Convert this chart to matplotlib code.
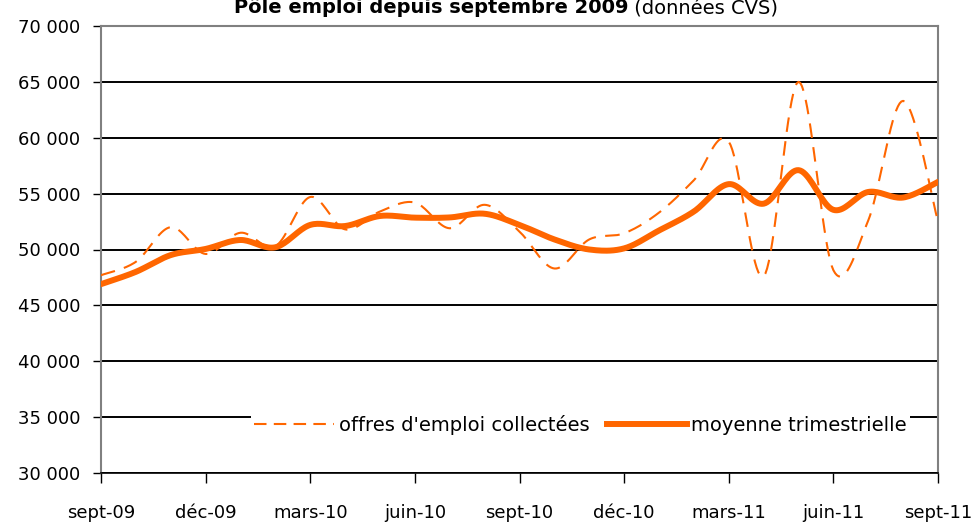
import numpy as np
import matplotlib
matplotlib.use("Agg")
import matplotlib.pyplot as plt
from matplotlib.lines import Line2D

months = ["sept-09", "oct-09", "nov-09", "déc-09", "janv-10", "févr-10", "mars-10",
          "avr-10", "mai-10", "juin-10", "juil-10", "août-10", "sept-10", "oct-10",
          "nov-10", "déc-10", "janv-11", "févr-11", "mars-11", "avr-11", "mai-11",
          "juin-11", "juil-11", "août-11", "sept-11"]
offres = [47700, 48900, 52000, 49600, 51500, 50300, 54700, 51800, 53400, 54200,
          51900, 54000, 51600, 48300, 50900, 51450, 53300, 56200, 59650, 47600,
          65000, 48150, 52600, 63300, 52500]
moyenne = [46900, 48000, 49500, 50050, 50850, 50200, 52200, 52100, 53000, 52850,
           52870, 53200, 52200, 50900, 50000, 50100, 51700, 53400, 55850, 54100,
           57100, 53550, 55150, 54650, 56050]
tick_labels = ["sept-09", "déc-09", "mars-10", "juin-10", "sept-10", "déc-10",
               "mars-11", "juin-11", "sept-11"]
yticks = list(range(30000, 70001, 5000))

ORANGE = "#FF6600"


def smooth(x, y, n=20):
    # Catmull-Rom style smoothing (like spreadsheet "smoothed line")
    x = np.asarray(x, float)
    y = np.asarray(y, float)
    xs, ys = [], []
    for i in range(len(x) - 1):
        p0 = (x[max(i - 1, 0)], y[max(i - 1, 0)])
        p1 = (x[i], y[i])
        p2 = (x[i + 1], y[i + 1])
        p3 = (x[min(i + 2, len(x) - 1)], y[min(i + 2, len(x) - 1)])
        c1 = (p1[0] + (p2[0] - p0[0]) / 6, p1[1] + (p2[1] - p0[1]) / 6)
        c2 = (p2[0] - (p3[0] - p1[0]) / 6, p2[1] - (p3[1] - p1[1]) / 6)
        t = np.linspace(0, 1, n, endpoint=(i == len(x) - 2))
        for a, b in [(0, xs), (1, ys)]:
            b.extend((1 - t) ** 3 * p1[a] + 3 * (1 - t) ** 2 * t * c1[a]
                     + 3 * (1 - t) * t ** 2 * c2[a] + t ** 3 * p2[a])
    return np.array(xs), np.array(ys)


fig = plt.figure(figsize=(9.76, 5.25), dpi=100)
ax = fig.add_axes([101 / 976, 1 - 473 / 525, (938 - 101) / 976, (473 - 26) / 525])

x = np.arange(len(months))
sx, sy = smooth(x, offres)
ax.plot(sx, sy, color=ORANGE, lw=1.5, dashes=(7, 4.5), zorder=3)
mx, my = smooth(x, moyenne)
ax.plot(mx, my, color=ORANGE, lw=4.3, solid_capstyle="round", zorder=4)

ax.set_xlim(0, len(months) - 1)
ax.set_ylim(30000, 70000)
ax.set_yticks(yticks)
ax.set_yticklabels([f"{v:,}".replace(",", " ") for v in yticks])
ax.set_xticks(np.arange(0, len(months), 3))
ax.set_xticklabels(tick_labels)
ax.yaxis.grid(True, color="black", lw=1.4)
ax.set_axisbelow(True)
for s in ["left", "right", "top"]:
    ax.spines[s].set_color("#808080")
    ax.spines[s].set_linewidth(1.5)
ax.spines["bottom"].set_color("black")
ax.spines["bottom"].set_linewidth(1.2)
ax.tick_params(axis="y", length=6, width=1, color="black", pad=9, labelsize=13)
ax.tick_params(axis="x", length=7, width=1, color="black", pad=15.5, labelsize=13)

handles = [Line2D([], [], color=ORANGE, lw=1.5, dashes=(6, 3.5)),
           Line2D([], [], color=ORANGE, lw=4.3)]
leg = ax.legend(handles, ["offres d'emploi collectées", "moyenne trimestrielle"],
                loc="center", bbox_to_anchor=(0.573, 0.108), ncol=2, frameon=True,
                fancybox=False, framealpha=1, edgecolor="white", fontsize=14,
                handlelength=4.1, handletextpad=0.25, columnspacing=0.9,
                borderpad=0.15, borderaxespad=0)
leg.get_frame().set_linewidth(0)
leg.set_zorder(5)

ybase = 1 - 13 / 525
t1 = fig.text(0.5, ybase, "Pôle emploi depuis septembre 2009", fontsize=14,
              fontweight="bold", ha="left", va="baseline")
t2 = fig.text(0.5, ybase, " (données CVS)", fontsize=14, ha="left", va="baseline")
fig.canvas.draw()
w1 = t1.get_window_extent().width
w2 = t2.get_window_extent().width
cx = 506
left = cx - (w1 + w2) / 2
t1.set_x(left / 976)
t2.set_x((left + w1) / 976)

fig.savefig("out.png", dpi=100)
